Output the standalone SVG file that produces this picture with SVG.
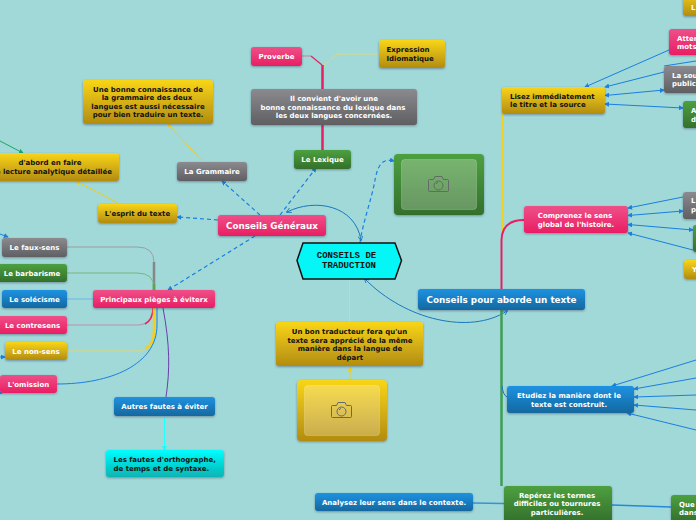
<svg xmlns="http://www.w3.org/2000/svg" width="696" height="520" viewBox="0 0 696 520">
<style>
text{font-family:"DejaVu Sans",Verdana,sans-serif;font-weight:700;font-size:7px;fill:#fff;text-anchor:middle}
.d{fill:#111}
.l{text-anchor:start}
.e{text-anchor:end}
.big{font-size:8.8px}
.mono{font-family:"Liberation Mono","Courier New",monospace;font-size:9px;fill:#111}
rect.n{filter:url(#s)}
.pink{fill:url(#gp)}.gold{fill:url(#gg)}.gray{fill:url(#gy)}.green{fill:url(#gn)}.blue{fill:url(#gb)}.cyan{fill:url(#gc)}
.inner{fill:#fff;fill-opacity:.25;stroke:#fff;stroke-opacity:.2}
.cam{fill:none;stroke:#66686a;stroke-width:1}
#connectors path{fill:none}
.arr{stroke:#1a7fe0;stroke-width:1;marker-end:url(#a)}
.two{marker-start:url(#as)}
.dash{stroke:#1a7fe0;stroke-width:1.2;stroke-dasharray:4 3;marker-end:url(#a)}
.arc{stroke:#1878bd;stroke-width:1;marker-end:url(#a2);marker-start:url(#as2)}
</style>
<defs>
<filter id="s" x="-10%" y="-15%" width="120%" height="140%"><feDropShadow dx="0" dy="1" stdDeviation="1" flood-color="#335" flood-opacity=".45"/></filter>
<linearGradient id="gp" x1="0" y1="0" x2="0" y2="1"><stop offset="0" stop-color="#ee5088"/><stop offset="1" stop-color="#e91e63"/></linearGradient>
<linearGradient id="gg" x1="0" y1="0" x2="0" y2="1"><stop offset="0" stop-color="#f9d518"/><stop offset="1" stop-color="#b28c10"/></linearGradient>
<linearGradient id="gy" x1="0" y1="0" x2="0" y2="1"><stop offset="0" stop-color="#8b8b8f"/><stop offset="1" stop-color="#5f5f63"/></linearGradient>
<linearGradient id="gn" x1="0" y1="0" x2="0" y2="1"><stop offset="0" stop-color="#4da040"/><stop offset="1" stop-color="#33702c"/></linearGradient>
<linearGradient id="gb" x1="0" y1="0" x2="0" y2="1"><stop offset="0" stop-color="#1e92e2"/><stop offset="1" stop-color="#14689f"/></linearGradient>
<linearGradient id="gc" x1="0" y1="0" x2="0" y2="1"><stop offset="0" stop-color="#0ff"/><stop offset="1" stop-color="#08b4b4"/></linearGradient>
<marker id="a" viewBox="0 0 6 6" refX="5" refY="3" markerWidth="5" markerHeight="5" markerUnits="userSpaceOnUse" orient="auto"><path d="M0 0L6 3L0 6z" fill="#1a7fe0"/></marker>
<marker id="as" viewBox="0 0 6 6" refX="1" refY="3" markerWidth="5" markerHeight="5" markerUnits="userSpaceOnUse" orient="auto"><path d="M6 0L0 3L6 6z" fill="#1a7fe0"/></marker>
<marker id="a2" viewBox="0 0 6 6" refX="5" refY="3" markerWidth="5" markerHeight="5" markerUnits="userSpaceOnUse" orient="auto"><path d="M0 0L6 3L0 6" fill="none" stroke="#1878bd"/></marker>
<marker id="as2" viewBox="0 0 6 6" refX="1" refY="3" markerWidth="5" markerHeight="5" markerUnits="userSpaceOnUse" orient="auto"><path d="M6 0L0 3L6 6" fill="none" stroke="#1878bd"/></marker>
<marker id="ag" viewBox="0 0 6 6" refX="5" refY="3" markerWidth="5" markerHeight="5" markerUnits="userSpaceOnUse" orient="auto"><path d="M0 0L6 3L0 6z" fill="#f0cc20"/></marker>
<marker id="ac" viewBox="0 0 6 6" refX="5" refY="3" markerWidth="5" markerHeight="5" markerUnits="userSpaceOnUse" orient="auto"><path d="M0 0L6 3L0 6z" fill="#1ff"/></marker>
<marker id="agn" viewBox="0 0 6 6" refX="5" refY="3" markerWidth="5" markerHeight="5" markerUnits="userSpaceOnUse" orient="auto"><path d="M0 0L6 3L0 6z" fill="#1aa860"/></marker>
<g id="camera"><path class="cam" d="M-9 -4.5h4l1.5-3h7l1.5 3h4a1 1 0 0 1 1 1v10a1 1 0 0 1-1 1h-18a1 1 0 0 1-1-1v-10a1 1 0 0 1 1-1z"/><circle class="cam" cx="0" cy="1.5" r="4.5"/><path class="cam" d="M-2.5 0a3 3 0 0 1 2-1.5"/></g>
</defs>
<rect width="696" height="520" fill="#a1d8d8"/>
<g id="connectors">
<path d="M302 56H311" stroke="#c98aa5" stroke-width="1.2"/>
<path d="M311 56L322 65" stroke="#e91e63" stroke-width="1.2"/>
<path d="M322.500 65V150" stroke="#e91e63" stroke-width="2.500"/>
<path d="M324 65L337 54H379" stroke="#dcd87a" stroke-width="1"/>
<path d="M202 161L168 124" stroke="#f0cc20" marker-end="url(#ag)"/>
<path d="M118 203L76 181" stroke="#f0cc20" marker-end="url(#ag)"/>
<path d="M0 141L23 153" stroke="#1aa860" marker-end="url(#agn)"/>
<path d="M0 234L8 237" class="arr"/>
<path d="M0 357L5 357" class="arr"/>
<path d="M0 393L2 393" class="arr"/>
<path d="M280 215L316 168" class="dash"/>
<path d="M260 215L222 181" class="dash"/>
<path d="M218 220L177 217" class="dash"/>
<path d="M255 236L168 290" class="dash"/>
<path d="M360 243C362 225 372 198 375 180C378 165 382 158 394 161" class="dash"/>
<path d="M287 212C315 198 355 205 361 240" class="arc"/>
<path d="M365 279C405 320 470 335 507 311" class="arc"/>
<path d="M349.500 279V322" stroke="#e8d860" stroke-width="1"/>
<path d="M350 380V367" stroke="#f0cc20" marker-end="url(#ag)"/>
<path d="M67 247H137Q154 247 154 262V290" stroke="#9a9ea4" stroke-width="1"/>
<path d="M154 262V290" stroke="#85878a" stroke-width="2.500"/>
<path d="M67 273H137Q154 273 154 288V292" stroke="#78b878" stroke-width="1"/>
<path d="M154 284V291" stroke="#56a848" stroke-width="2.500"/>
<path d="M67 299H93" stroke="#7ec0e4" stroke-width="1.500"/>
<path d="M67 325H137Q152 325 153 308" stroke="#c090ac" stroke-width="1.200"/>
<path d="M145 324Q153 320 153 308" stroke="#e91e63" stroke-width="1.500"/>
<path d="M67 351H140Q154 349 154 330V308" stroke="#dcd870" stroke-width="1"/>
<path d="M145 349Q154 345 154 330V308" stroke="#f5cf20" stroke-width="2.500"/>
<path d="M57 384C110 384 157 365 157 325V308" stroke="#1a7fe0" stroke-width="1"/>
<path d="M163 308C170 345 170 370 166 397" stroke="#6a3fa8" stroke-width="1"/>
<path d="M164.500 417V450" stroke="#2ff" stroke-width="1" marker-end="url(#ac)"/>
<path d="M502.500 114V232" stroke="#f3d122" stroke-width="2.500"/>
<path d="M524 220Q502 220 501.500 240V289" stroke="#e91e63" stroke-width="2"/>
<path d="M501.500 310V486" stroke="#3f9e56" stroke-width="2.500"/>
<path d="M502 386Q503 395 507 397" stroke="#1878bd" stroke-width="1"/>
<path d="M473 503L504 503.500" stroke="#3b90d8" stroke-width="1.500"/>
<path d="M612 505L671 507" stroke="#2588da" stroke-width="1.500"/>
<path d="M669 50L585 87" class="arr"/>
<path d="M664 72L605 87" class="arr"/>
<path d="M605 95.500L664 90" class="arr two"/>
<path d="M605 104L683 108" class="arr two"/>
<path d="M664 66L696 61" stroke="#1a7fe0"/>
<path d="M683 197L628 208" class="arr"/>
<path d="M628 215.500L683 211" class="arr two"/>
<path d="M628 224.500L693 230" class="arr two"/>
<path d="M693 250L628 233" class="arr"/>
<path d="M696 360L612 386" class="arr"/>
<path d="M696 378L634 389" class="arr"/>
<path d="M696 395L634 397" class="arr"/>
<path d="M696 410L634 405" class="arr"/>
<path d="M696 430L627 413" class="arr"/>
</g>
<g id="n-proverbe"><rect class="n pink" x="251" y="47" width="51" height="19" rx="3"/><text x="276.500" y="59">Proverbe</text></g>
<g id="n-expression"><rect class="n gold" x="379" y="40" width="66" height="28" rx="3"/><text class="d l" x="386.500" y="52">Expression</text><text class="d l" x="386.500" y="61">Idiomatique</text></g>
<g id="n-convient"><rect class="n gray" x="251" y="89" width="166" height="36" rx="3"/><text x="334" y="101">Il convient d'avoir une</text><text x="333" y="110">bonne connaissance du lexique dans</text><text x="334" y="118">les deux langues concernées.</text></g>
<g id="n-lexique"><rect class="n green" x="294" y="150" width="57" height="19" rx="3"/><text x="322.500" y="162">Le Lexique</text></g>
<g id="n-photo1"><rect class="n green" x="394" y="154" width="90" height="61" rx="4"/><rect class="inner" x="401.500" y="159.500" width="75" height="50" rx="3"/><use href="#camera" x="438.500" y="184"/></g>
<g id="n-bonne"><rect class="n gold" x="83" y="80" width="130" height="44" rx="3"/><text class="d" x="148" y="92">Une bonne connaissance de</text><text class="d" x="147" y="100">la grammaire des deux</text><text class="d" x="148" y="109">langues est aussi nécessaire</text><text class="d" x="148" y="117">pour bien traduire un texte.</text></g>
<g id="n-grammaire"><rect class="n gray" x="177" y="162" width="70" height="19" rx="3"/><text x="212" y="174">La Grammaire</text></g>
<g id="n-abord"><rect class="n gold" x="-20" y="153" width="139" height="28" rx="3"/><text class="d" x="50" y="165">d'abord en faire</text><text class="d e" x="112" y="174">e lecture analytique détaillée</text></g>
<g id="n-esprit"><rect class="n gold" x="98" y="204" width="79" height="19" rx="3"/><text class="d" x="137.500" y="216">L'esprit du texte</text></g>
<g id="n-generaux"><rect class="n pink" x="218" y="215" width="108" height="21" rx="3"/><text class="big" x="272" y="229">Conseils Généraux</text></g>
<g id="n-centre"><path d="M303 243H395L401.500 260.500L395 279H303L297 260.500Z" fill="#04f6f6" stroke="#111" stroke-width="1.500"/><text class="mono" x="346.500" y="258">CONSEILS DE</text><text class="mono" x="349" y="268">TRADUCTION</text></g>
<g id="n-fauxsens"><rect class="n gray" x="2" y="238" width="65" height="19" rx="3"/><text x="34.500" y="250">Le faux-sens</text></g>
<g id="n-barbarisme"><rect class="n green" x="-3" y="264" width="70" height="18" rx="3"/><text x="32" y="276">Le barbarisme</text></g>
<g id="n-solecisme"><rect class="n blue" x="2" y="290" width="65" height="18" rx="3"/><text x="34.500" y="302">Le solécisme</text></g>
<g id="n-contresens"><rect class="n pink" x="-3" y="316" width="70" height="18" rx="3"/><text x="32.500" y="328">Le contresens</text></g>
<g id="n-nonsens"><rect class="n gold" x="5" y="342" width="62" height="18" rx="3"/><text x="36" y="354">Le non-sens</text></g>
<g id="n-omission"><rect class="n pink" x="0" y="375" width="57" height="18" rx="3"/><text x="28.500" y="387">L'omission</text></g>
<g id="n-pieges"><rect class="n pink" x="93" y="290" width="122" height="18" rx="3"/><text x="154" y="302">Principaux pièges à éviterx</text></g>
<g id="n-autres"><rect class="n blue" x="114" y="397" width="101" height="19" rx="3"/><text x="164.500" y="409">Autres fautes à éviter</text></g>
<g id="n-fautes"><rect class="n cyan" x="106" y="450" width="118" height="27" rx="3"/><text class="d l" x="113.500" y="462">Les fautes d'orthographe,</text><text class="d l" x="113.500" y="471">de temps et de syntaxe.</text></g>
<g id="n-traducteur"><rect class="n gold" x="276" y="322" width="147" height="44" rx="3"/><text class="d" x="349.500" y="334">Un bon traducteur fera qu'un</text><text class="d" x="350" y="343">texte sera apprécié de la même</text><text class="d" x="350" y="351">manière dans la langue de</text><text class="d" x="350" y="360">départ</text></g>
<g id="n-photo2"><rect class="n gold" x="297" y="380" width="90" height="61" rx="4"/><rect class="inner" x="304.500" y="385.500" width="75" height="50" rx="3"/><use href="#camera" x="341.500" y="410"/></g>
<g id="n-analysez"><rect class="n blue" x="315" y="493" width="158" height="18" rx="3"/><text x="394" y="505">Analysez leur sens dans le contexte.</text></g>
<g id="n-aborde"><rect class="n blue" x="418" y="289" width="167" height="21" rx="3"/><text class="big" x="501.500" y="303">Conseils pour aborde un texte</text></g>
<g id="n-lisez"><rect class="n gold" x="502" y="87" width="103" height="27" rx="3"/><text class="d l" x="510" y="99">Lisez immédiatement</text><text class="d l" x="510" y="107">le titre et la source</text></g>
<g id="n-comprenez"><rect class="n pink" x="524" y="206" width="104" height="27" rx="3"/><text x="575" y="218">Comprenez le sens</text><text x="576" y="227">global de l'histoire.</text></g>
<g id="n-etudiez"><rect class="n blue" x="507" y="386" width="127" height="27" rx="3"/><text x="569" y="398">Etudiez la manière dont le</text><text x="569" y="407">texte est construit.</text></g>
<g id="n-reperez"><rect class="n green" x="504" y="486" width="108" height="36" rx="3"/><text x="557" y="498">Repérez les termes</text><text x="557" y="506">difficiles ou tournures</text><text x="557" y="515">particulières.</text></g>
<g id="n-que"><rect class="n green" x="671" y="495" width="40" height="27" rx="3"/><text class="l" x="679" y="507">Que</text><text class="l" x="679" y="515">dans</text></g>
<g id="n-top"><rect class="n gold" x="683" y="-10" width="30" height="26" rx="3"/><text class="l" x="691" y="10">L</text></g>
<g id="n-attention"><rect class="n pink" x="669" y="29" width="50" height="26" rx="3"/><text class="l" x="677" y="41">Atten</text><text class="l" x="677" y="49">mots</text></g>
<g id="n-source"><rect class="n gray" x="664" y="66" width="50" height="27" rx="3"/><text class="l" x="672" y="78">La sou</text><text class="l" x="672" y="86">public</text></g>
<g id="n-a"><rect class="n green" x="683" y="101" width="40" height="27" rx="3"/><text class="l" x="691" y="113">A</text><text class="l" x="691" y="122">d</text></g>
<g id="n-l"><rect class="n gray" x="683" y="192" width="40" height="27" rx="3"/><text class="l" x="691" y="203">L</text><text class="l" x="691" y="212">p</text></g>
<g id="n-vert"><rect class="n green" x="693" y="225" width="40" height="27" rx="3"/></g>
<g id="n-y"><rect class="n gold" x="684" y="260" width="40" height="19" rx="3"/><text class="l" x="692" y="272">Y</text></g>
</svg>
